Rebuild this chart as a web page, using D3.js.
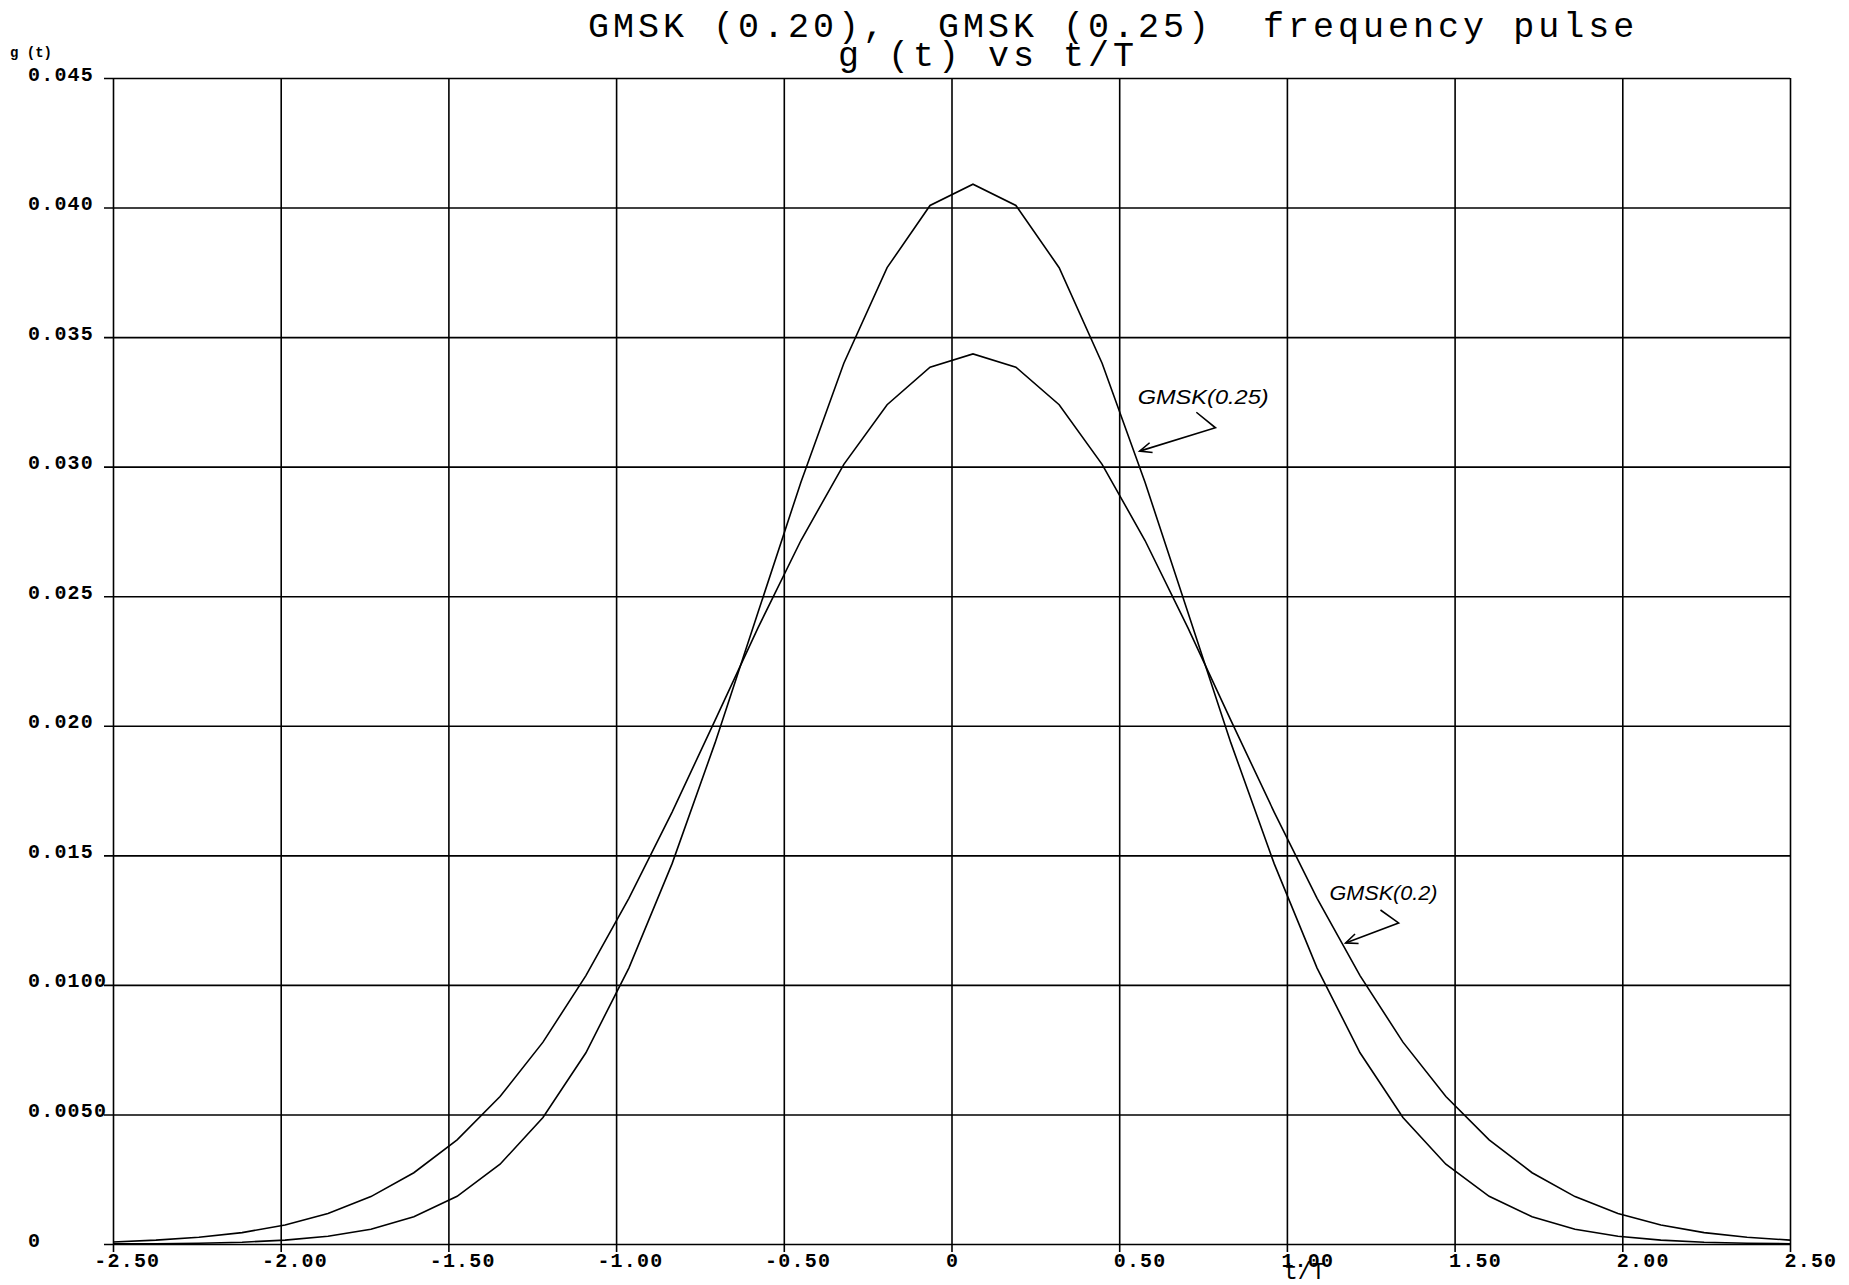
<html>
<head>
<title>GMSK frequency pulse</title>
<script src="https://d3js.org/d3.v7.min.js"></script>
<style>
  body { margin: 0; background: #fff; }
</style>
</head>
<body>
<div id="chart"></div>
<script>
var width = 1849;
var height = 1285;

// t/T positions of the plotted samples
var tOverT = [-2.500, -2.372, -2.244, -2.115, -1.987, -1.859, -1.731, -1.603, -1.474, -1.346,
              -1.218, -1.090, -0.962, -0.833, -0.705, -0.577, -0.449, -0.321, -0.192, -0.064,
               0.064,  0.192,  0.321,  0.449,  0.577,  0.705,  0.833,  0.962,  1.090,  1.218,
               1.346,  1.474,  1.603,  1.731,  1.859,  1.987,  2.115,  2.244,  2.372,  2.500];

// GMSK (0.20) pulse
var g020 = [0.00008, 0.00015, 0.00026, 0.00044, 0.00073, 0.00118, 0.00183, 0.00275, 0.00402, 0.00569,
            0.00779, 0.01036, 0.01334, 0.01667, 0.02021, 0.02378, 0.02715, 0.03009, 0.03239, 0.03384,
            0.03435, 0.03384, 0.03239, 0.03009, 0.02715, 0.02378, 0.02021, 0.01667, 0.01334, 0.01036,
            0.00779, 0.00569, 0.00402, 0.00275, 0.00183, 0.00118, 0.00073, 0.00044, 0.00026, 0.00015];

// GMSK (0.25) pulse
var g025 = [0.00001, 0.00001, 0.00003, 0.00007, 0.00015, 0.00030, 0.00057, 0.00105, 0.00184, 0.00308,
            0.00488, 0.00738, 0.01065, 0.01468, 0.01934, 0.02437, 0.02940, 0.03399, 0.03768, 0.04008,
            0.04090, 0.04008, 0.03768, 0.03399, 0.02940, 0.02437, 0.01934, 0.01468, 0.01065, 0.00738,
            0.00488, 0.00308, 0.00184, 0.00105, 0.00057, 0.00030, 0.00015, 0.00007, 0.00003, 0.00001];

var xTicks = [-2.5, -2, -1.5, -1, -0.5, 0, 0.5, 1, 1.5, 2, 2.5];
var xTickLabels = ["-2.50", "-2.00", "-1.50", "-1.00", "-0.50", "0", "0.50", "1.00", "1.50", "2.00", "2.50"];
var yTicks = [0, 0.005, 0.010, 0.015, 0.020, 0.025, 0.030, 0.035, 0.040, 0.045];
var yTickLabels = ["0", "0.0050", "0.0100", "0.015", "0.020", "0.025", "0.030", "0.035", "0.040", "0.045"];

var titleLines = ["GMSK (0.20),  GMSK (0.25)  frequency pulse", "g (t) vs t/T"];

// hand written notes: text anchor + arrow polyline, in data units
var notes = [
  {text: "GMSK(0.25)", at: [0.555, 0.0324], len: 131,
   arrow: [[0.730, 0.0321], [0.787, 0.0315], [0.561, 0.0306]]},
  {text: "GMSK(0.2)", at: [1.127, 0.01328], len: 108,
   arrow: [[1.279, 0.01289], [1.333, 0.01239], [1.175, 0.01162]]}
];

var margin = {top: 78, right: 59, bottom: 41, left: 113};
var mono = "'Liberation Mono', 'DejaVu Sans Mono', monospace";

var x = d3.scaleLinear().domain([-2.5, 2.5]).range([margin.left, width - margin.right]);
var y = d3.scaleLinear().domain([0, 0.045]).range([height - margin.bottom, margin.top]);

var svg = d3.select("#chart").append("svg")
    .attr("width", width)
    .attr("height", height)
    .style("background", "#fff");

// x grid + labels
var gx = svg.append("g")
    .attr("transform", "translate(0," + y(0) + ")")
    .call(d3.axisBottom(x)
        .tickValues(xTicks)
        .tickFormat(function(d, i) { return xTickLabels[i]; })
        .tickSizeInner(-(y(0) - y(0.045)))
        .tickSizeOuter(0));
gx.select(".domain").remove();
gx.attr("font-family", mono).attr("font-size", 20).attr("font-weight", "bold");
gx.selectAll(".tick line").attr("y1", 8).attr("stroke", "#000").attr("stroke-width", 1.6);
gx.selectAll(".tick text")
    .attr("fill", "#000")
    .attr("text-anchor", "start")
    .attr("letter-spacing", 1.2)
    .attr("dy", null)
    .attr("y", 23)
    .attr("x", function(d) { return d < 0 ? -6 - 13.2 : -6; });

// y grid + labels
var gy = svg.append("g")
    .attr("transform", "translate(" + x(-2.5) + ",0)")
    .call(d3.axisLeft(y)
        .tickValues(yTicks)
        .tickFormat(function(d, i) { return yTickLabels[i]; })
        .tickSizeInner(-(x(2.5) - x(-2.5)))
        .tickSizeOuter(0));
gy.select(".domain").remove();
gy.attr("font-family", mono).attr("font-size", 20).attr("font-weight", "bold");
gy.selectAll(".tick line").attr("x1", -9).attr("stroke", "#000").attr("stroke-width", 1.6);
gy.selectAll(".tick text")
    .attr("fill", "#000")
    .attr("text-anchor", "start")
    .attr("letter-spacing", 1.2)
    .attr("dy", null)
    .attr("y", 2)
    .attr("x", 28 - x(-2.5));

// curves
var line = d3.line()
    .x(function(d) { return x(d[0]); })
    .y(function(d) { return y(d[1]); });

[g020, g025].forEach(function(series) {
  svg.append("path")
      .datum(tOverT.map(function(t, i) { return [t, series[i]]; }))
      .attr("fill", "none")
      .attr("stroke", "#000")
      .attr("stroke-width", 1.6)
      .attr("d", line);
});

// titles
svg.selectAll(".title")
    .data(titleLines)
    .enter().append("text")
    .attr("class", "title")
    .attr("x", function(d, i) { return i == 0 ? 588 : 838; })
    .attr("y", function(d, i) { return i == 0 ? 37 : 66; })
    .attr("font-family", mono)
    .attr("font-size", 35)
    .attr("letter-spacing", 4)
    .style("white-space", "pre")
    .text(function(d) { return d; });

svg.append("text")
    .attr("x", 10).attr("y", 57)
    .attr("font-family", mono)
    .attr("font-size", 14)
    .attr("font-weight", "bold")
    .style("white-space", "pre")
    .text("g (t)");

svg.append("text")
    .attr("x", x(1) - 3).attr("y", 1279)
    .attr("font-family", mono)
    .attr("font-size", 23)
    .text("t/T");

// hand written notes
notes.forEach(function(n) {
  svg.append("text")
      .attr("x", x(n.at[0])).attr("y", y(n.at[1]))
      .attr("font-family", "'Liberation Sans', sans-serif")
      .attr("font-style", "italic")
      .attr("font-size", 20)
      .attr("textLength", n.len)
      .attr("lengthAdjust", "spacingAndGlyphs")
      .text(n.text);

  var pts = n.arrow.map(function(p) { return [x(p[0]), y(p[1])]; });
  svg.append("path")
      .attr("fill", "none")
      .attr("stroke", "#000")
      .attr("stroke-width", 1.6)
      .attr("d", d3.line()(pts));

  var tip = pts[pts.length - 1], prev = pts[pts.length - 2];
  var a = Math.atan2(tip[1] - prev[1], tip[0] - prev[0]);
  var head = [
    [tip[0] - 13 * Math.cos(a - 0.4), tip[1] - 13 * Math.sin(a - 0.4)],
    tip,
    [tip[0] - 13 * Math.cos(a + 0.4), tip[1] - 13 * Math.sin(a + 0.4)]
  ];
  svg.append("path")
      .attr("fill", "none")
      .attr("stroke", "#000")
      .attr("stroke-width", 1.6)
      .attr("d", d3.line()(head));
});
</script>
</body>
</html>
